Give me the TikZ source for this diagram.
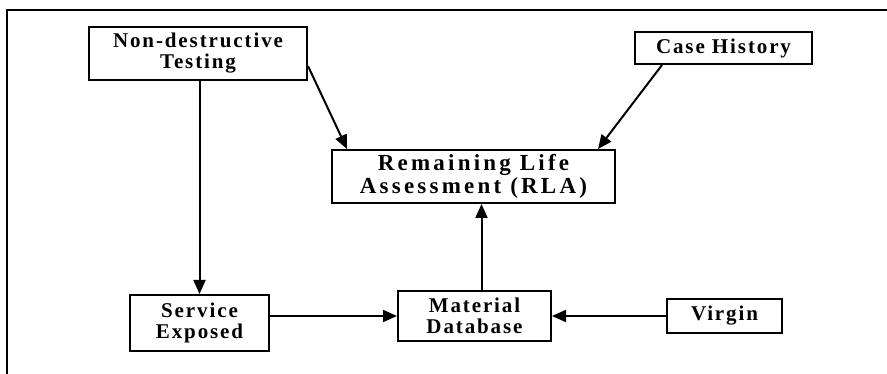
\documentclass[tikz,border=0pt]{standalone}
\usepackage{fontspec}
\setmainfont{Liberation Serif}[LetterSpace=9]
\newfontfamily\rlafont{Liberation Serif}[LetterSpace=14]
\usetikzlibrary{arrows.meta,calc}
\tikzset{
  box/.style={draw=black,line width=2pt,inner sep=0pt,align=center,
    font=\bfseries\fontsize{21}{21}\selectfont},
  conn/.style={line width=2pt,-{Triangle[length=14pt,width=12pt]}},
}
\begin{document}
\begin{tikzpicture}[x=1pt,y=-1pt]
\useasboundingbox (0,0) rectangle (887,374);
\fill[white] (0,0) rectangle (887,374);
\coordinate (ftl) at (7,10);
\coordinate (ftr) at (887,10);
\coordinate (fbl) at (7,374);
\draw[line width=2pt] (ftr) -- (ftl) -- (fbl);
\node[box,minimum width=218pt,minimum height=53pt] (ndt) at (198,53.5) {Non-destructive\\Testing};
\node[box,minimum width=177pt,minimum height=32pt] (case) at (723.5,48) {Case History};
\node[box,minimum width=283pt,minimum height=53pt,font=\rlafont\bfseries\fontsize{23}{23}\selectfont] (rla) at (473.5,176.5) {Remaining Life\\Assessment (RLA)};
\node[box,minimum width=139pt,minimum height=56pt] (se) at (199.5,323) {Service\\Exposed};
\node[box,minimum width=153pt,minimum height=50pt] (md) at (474.5,316) {Material\\Database};
\node[box,minimum width=115pt,minimum height=34pt] (vir) at (724.5,316) {Virgin};
\draw[conn] (se.north |- ndt.south) -- (se.north);
\draw[conn] ($(ndt.north east)+(0,40)$) -- ($(rla.north west)+(16,0)$);
\draw[conn] ($(case.south west)+(28,0)$) -- ($(rla.north east)+(-18,0)$);
\draw[conn] ($(md.north)+(7,0)$) -- ($(rla.south)+(8,0)$);
\draw[conn] (se.east |- md.west) -- (md.west);
\draw[conn] (vir.west) -- (md.east);
\end{tikzpicture}
\end{document}
